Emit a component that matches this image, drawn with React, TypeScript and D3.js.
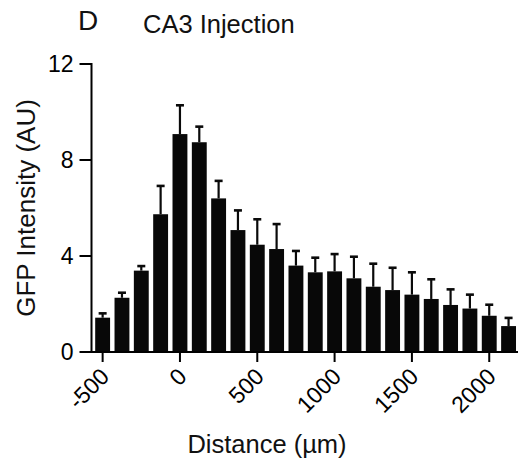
import * as d3 from "d3";

// distance from injection site (µm), one bar each
const distances = [
  -500, -375, -250, -125, 0, 125, 250, 375, 500, 625, 750, 875, 1000, 1125,
  1250, 1375, 1500, 1625, 1750, 1875, 2000, 2125,
];
// mean GFP intensity (AU)
const means = [
  1.43, 2.26, 3.39, 5.74, 9.08, 8.74, 6.4, 5.08, 4.47, 4.29, 3.6, 3.32, 3.36,
  3.07, 2.72, 2.58, 2.39, 2.21, 1.96, 1.81, 1.51, 1.08,
];
// upper error (SEM)
const errors = [
  0.18, 0.21, 0.19, 1.18, 1.2, 0.65, 0.73, 0.82, 1.06, 1.04, 0.61, 0.61, 0.72,
  0.9, 0.96, 0.93, 0.93, 0.82, 0.65, 0.58, 0.46, 0.34,
];
const xTicks = [-500, 0, 500, 1000, 1500, 2000];
const yTicks = [0, 4, 8, 12];

const width = 518;
const height = 468;
const font = "'Liberation Sans', Arial, Helvetica, sans-serif";

const App = () => {
  const x = d3.scaleLinear().domain([-572, 2186]).range([91.5, 518]);
  const y = d3.scaleLinear().domain([0, 12]).range([352, 64]);
  const step = x(125) - x(0);
  const barWidth = step * 0.77;
  const capWidth = 8;

  return (
    <svg
      width={width}
      height={height}
      viewBox={`0 0 ${width} ${height}`}
      style={{ position: "absolute", left: 0, top: 0, background: "#fff" }}
      fontFamily={font}
    >
      {/* bars + upper error bars */}
      {distances.map((d, i) => {
        const cx = x(d);
        const top = y(means[i]);
        const capY = y(means[i] + errors[i]);
        return (
          <g key={d}>
            <line x1={cx} x2={cx} y1={top} y2={capY} stroke="#0a0a0a" strokeWidth={2.2} />
            <line
              x1={cx - capWidth / 2}
              x2={cx + capWidth / 2}
              y1={capY}
              y2={capY}
              stroke="#0a0a0a"
              strokeWidth={2.6}
            />
            <rect
              x={cx - barWidth / 2}
              y={top}
              width={barWidth}
              height={y(0) - top}
              fill="#080808"
            />
          </g>
        );
      })}

      {/* y axis */}
      <line x1={x.range()[0]} x2={x.range()[0]} y1={y(12) - 1} y2={y(0) + 1} stroke="#000" strokeWidth={2} />
      {yTicks.map((t) => (
        <g key={t} transform={`translate(${x.range()[0]}, ${y(t)})`}>
          <line x1={-12} x2={0} stroke="#000" strokeWidth={2} />
          <text x={-18} dy="0.36em" fontSize={23} textAnchor="end" fill="#000">
            {t}
          </text>
        </g>
      ))}

      {/* x axis */}
      <line x1={x.range()[0] - 1} x2={x.range()[1]} y1={y(0)} y2={y(0)} stroke="#000" strokeWidth={2} />
      {xTicks.map((t) => (
        <g key={t} transform={`translate(${x(t)}, ${y(0)})`}>
          <line y1={0} y2={10} stroke="#000" strokeWidth={2} />
          <text
            transform="translate(8, 26) rotate(-45)"
            fontSize={23}
            textAnchor="end"
            fill="#000"
          >
            {t}
          </text>
        </g>
      ))}

      {/* titles */}
      <text x={78} y={30} fontSize={28} fill="#111">
        D
      </text>
      <text x={143} y={33} fontSize={25.5} fill="#111">
        CA3 Injection
      </text>
      <text x={267} y={453} fontSize={25.5} textAnchor="middle" fill="#111">
        Distance (µm)
      </text>
      <text
        transform="translate(35, 208) rotate(-90)"
        fontSize={26}
        textAnchor="middle"
        fill="#111"
      >
        GFP Intensity (AU)
      </text>
    </svg>
  );
};

export default App;
